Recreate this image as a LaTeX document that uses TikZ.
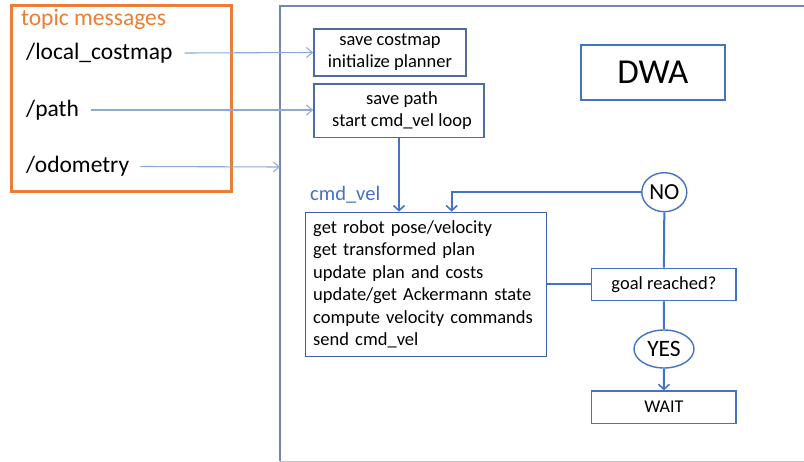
\documentclass[tikz,border=0pt]{standalone}
\usepackage{fontspec}
\setmainfont{Carlito}
\usetikzlibrary{arrows.meta,shapes.geometric}
\definecolor{topicorange}{HTML}{ED7D31}
\definecolor{flowblue}{HTML}{4472C4}
\definecolor{boxblue}{HTML}{4E6C9E}
\definecolor{inblue}{HTML}{8EA9D8}
\definecolor{framegray}{HTML}{BFBFBF}
\tikzset{
  box/.style={draw=boxblue, line width=1.6pt, rectangle, inner sep=0pt},
  oval/.style={draw=flowblue, line width=1.4pt, ellipse, inner sep=0pt},
  flow/.style={draw=flowblue, line width=2pt},
  flowarrow/.style={flow, -{Straight Barb[length=5pt,width=11pt,line width=1.6pt]}},
  inarrow/.style={draw=inblue, line width=1.1pt, -{Straight Barb[length=6pt,width=10pt,line width=1pt]}},
  topic/.style={anchor=west, inner sep=0pt, font=\fontsize{23.5}{28}\selectfont},
  body/.style={font=\fontsize{18.5}{22.2}\selectfont, align=center},
}
\begin{document}
\begin{tikzpicture}[x=1pt, y=-1pt]
  \useasboundingbox[fill=white] (0,0) rectangle (804,462);

  % topic messages frame
  \draw[topicorange, line width=3pt] (11,6) rectangle (231,192);
  \node[topic, text=topicorange] (title) at (21,19) {topic messages};
  \node[topic] (costmap) at (26,53) {/local\_costmap};
  \node[topic] (path) at (26,110) {/path};
  \node[topic] (odom) at (26,166.5) {/odometry};

  % planner frame (open to the right)
  \draw[draw=boxblue!80, line width=1.6pt] (806,6) -- (280,6) -- (280,461);
  \draw[framegray, line width=1pt] (280,461.5) -- (806,461.5);
  \coordinate (frameleft) at (280,167);

  % boxes
  \node[box, body, minimum width=152pt, minimum height=47pt] (init) at (390,52.5)
    {save costmap\\initialize planner};
  \node[box, body, minimum width=170pt, minimum height=53.7pt] (start) at (399,110.8)
    {\hspace*{6pt}save path\\\hspace*{6pt}start cmd\_vel loop};
  \node[box, draw=flowblue, line width=2pt, minimum width=144pt, minimum height=55pt,
        font=\fontsize{35}{40}\selectfont] (dwa) at (652.8,72.7) {DWA};
  \node[box, draw=flowblue!85!black, line width=1.4pt, minimum width=241pt, minimum height=144.4pt,
        font=\fontsize{18.5}{22.5}\selectfont, align=left, text width=226pt] (loop) at (426.2,284.5)
    {get robot pose/velocity\\get transformed plan\\update plan and costs\\update/get Ackermann state\\compute velocity commands\\send cmd\_vel};
  \node[anchor=west, inner sep=0pt, text=flowblue, font=\fontsize{20.5}{24}\selectfont] (cmdlabel)
    at (310,195) {cmd\_vel};
  \node[oval, minimum width=45pt, minimum height=39pt, font=\fontsize{23}{27}\selectfont] (no)
    at (664.3,192.2) {NO};
  \node[box, draw=flowblue, line width=1.4pt, minimum width=144.3pt, minimum height=32.4pt, body] (goal)
    at (663.9,284.5) {goal reached?};
  \node[oval, minimum width=60pt, minimum height=38pt, font=\fontsize{23.5}{27}\selectfont] (yes)
    at (664,349) {YES};
  \node[box, draw=flowblue, line width=1.4pt, minimum width=144.3pt, minimum height=32.3pt,
        font=\fontsize{18}{22}\selectfont] (wait) at (663.9,407.2) {WAIT};

  % topic inputs
  \draw[inarrow] ([xshift=12pt]costmap.east) -- (init.west);
  \draw[inarrow] ([xshift=12pt]path.east) -- (start.west |- path.east);
  \draw[inarrow] ([xshift=11pt]odom.east) -- (frameleft);

  % control flow
  \draw[flowarrow] (start.south) -- (start.south |- loop.north);
  \draw[flowarrow] (no.west) -| ([xshift=25.5pt]loop.north);
  \draw[flow] (no.south) -- (goal.north);
  \draw[flow] (loop.east |- goal.west) -- (goal.west);
  \draw[flow] (goal.south) -- (yes.north);
  \draw[flowarrow] (yes.south) -- (wait.north);
\end{tikzpicture}
\end{document}
